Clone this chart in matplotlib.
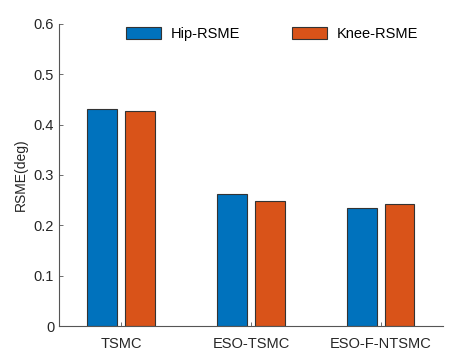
import matplotlib
matplotlib.use("Agg")
import matplotlib.pyplot as plt
import numpy as np

plt.rcParams['font.family'] = ['Liberation Sans', 'DejaVu Sans']

categories = ["TSMC", "ESO-TSMC", "ESO-F-NTSMC"]
hip_rsme = [0.431, 0.263, 0.234]
knee_rsme = [0.428, 0.249, 0.242]
series_names = ["Hip-RSME", "Knee-RSME"]
yticks = [0, 0.1, 0.2, 0.3, 0.4, 0.5, 0.6]

fig = plt.figure(figsize=(4.74, 3.6), dpi=100)
ax = fig.add_axes([0.1245, 0.0944, 0.81, 0.839])

x = np.arange(1, len(categories) + 1)
w = 0.23
off = 0.143
ax.bar(x - off, hip_rsme, w, color='#0072BD', edgecolor='#333333', linewidth=0.8, label=series_names[0])
ax.bar(x + off, knee_rsme, w, color='#D95319', edgecolor='#333333', linewidth=0.8, label=series_names[1])

ax.set_xlim(0.523, 3.477)
ax.set_ylim(0, 0.6)
ax.set_xticks(x)
ax.set_xticklabels(categories)
ax.set_yticks(yticks)
ax.set_yticklabels([f"{t:g}" for t in yticks])
ax.set_ylabel("RSME(deg)", fontsize=10, color='#262626')
ax.tick_params(direction='in', length=3, width=0.6, colors='#555555', labelcolor='#262626', labelsize=10.5)
ax.tick_params(axis='x', pad=8)
for s in ['top', 'right']:
    ax.spines[s].set_visible(False)
for s in ['left', 'bottom']:
    ax.spines[s].set_color('#555555')
    ax.spines[s].set_linewidth(0.8)

ax.legend(ncol=2, frameon=False, loc='center', bbox_to_anchor=(0.555, 0.967),
          handlelength=2.4, handleheight=0.9, columnspacing=3.5, handletextpad=0.7, fontsize=10.5)

fig.savefig("out.png", dpi=100)
